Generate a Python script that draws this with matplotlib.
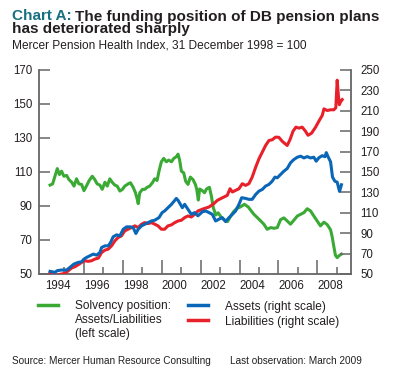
import matplotlib
matplotlib.use("Agg")
import matplotlib.pyplot as plt
from matplotlib.lines import Line2D

plt.rcParams['font.family'] = ['Liberation Sans', 'DejaVu Sans']

# Solvency position: assets/liabilities (left scale)
solv_years = [1994.26, 1994.39, 1994.51, 1994.63, 1994.74, 1994.85, 1994.97, 1995.11, 1995.23, 1995.37, 1995.49, 1995.62, 1995.74, 1995.88,
              1996.00, 1996.14, 1996.27, 1996.43, 1996.56, 1996.68, 1996.82, 1996.94, 1997.08, 1997.20, 1997.33, 1997.45, 1997.59, 1997.71, 1997.85, 1997.98,
              1998.10, 1998.27, 1998.39, 1998.53, 1998.65, 1998.74, 1998.79, 1998.87, 1999.01, 1999.13, 1999.25, 1999.38, 1999.52, 1999.64, 1999.76, 1999.86, 1999.98,
              2000.10, 2000.24, 2000.36, 2000.50, 2000.62, 2000.75, 2000.84, 2000.92, 2001.01, 2001.13, 2001.23, 2001.35, 2001.47, 2001.61, 2001.73, 2001.80, 2001.88, 2001.95,
              2002.09, 2002.20, 2002.30, 2002.45, 2002.55, 2002.65, 2002.78, 2002.90, 2003.05, 2003.20, 2003.38, 2003.52, 2003.68, 2003.85,
              2004.05, 2004.25, 2004.45, 2004.60, 2004.74, 2005.00, 2005.25, 2005.42, 2005.60, 2005.77, 2005.94,
              2006.11, 2006.28, 2006.45, 2006.62, 2006.79, 2006.97, 2007.14, 2007.31, 2007.48, 2007.65, 2007.82, 2007.99,
              2008.16, 2008.34, 2008.51, 2008.68, 2008.76, 2008.85, 2008.93, 2009.02, 2009.11, 2009.24]
solv_vals = [102.3, 103, 107.5, 112, 108.5, 110.5, 107.5, 108, 105.5, 104, 101.7, 106, 103, 102.7,
             99, 102, 105, 107.5, 105.5, 103, 102.3, 99.8, 104, 101.7, 106, 104, 102.3, 101.7, 98.8, 99.8,
             101.7, 103, 103.7, 101, 97.8, 94, 91.4, 97.8, 99.8, 99.8, 101, 101.7, 103.7, 106, 105, 110.5, 116,
             118, 116, 117, 116, 118, 119, 120.5, 117, 110.5, 109.5, 104.6, 102.7, 107, 105.5, 102.7, 99.8, 93.5, 100,
             99, 97.8, 100, 101, 96, 89, 84.7, 86, 83.5, 82, 80.8, 83.5, 86.5, 88.5,
             89.5, 91, 89.4, 87.1, 85.1, 82.2, 79.3, 76.3, 77.3, 76.9, 77.3,
             82, 83, 81.2, 79.3, 81.6, 84.1, 85.1, 86.1, 88.4, 87.1, 84.1, 81.2,
             78.3, 80.5, 79, 76, 72, 66, 61, 59.6, 60.7, 61.7]

# Assets (right scale)
assets_years = [1994.26, 1994.51, 1994.63, 1994.85, 1995.11, 1995.28, 1995.49, 1995.71, 1995.88,
                1996.00, 1996.14, 1996.31, 1996.48, 1996.65, 1996.82, 1996.91, 1997.08, 1997.25, 1997.37, 1997.50, 1997.68, 1997.85,
                1998.02, 1998.19, 1998.39, 1998.53, 1998.67, 1998.79, 1998.96, 1999.13, 1999.30, 1999.47, 1999.64, 1999.86,
                2000.02, 2000.15, 2000.32, 2000.50, 2000.67, 2000.75, 2000.84, 2000.96, 2001.06, 2001.18, 2001.35, 2001.52, 2001.69, 2001.86,
                2002.09, 2002.26, 2002.43, 2002.60, 2002.77, 2002.94, 2003.11, 2003.28, 2003.46, 2003.63, 2003.80, 2003.97,
                2004.11, 2004.31, 2004.48, 2004.65, 2004.83, 2005.00, 2005.17, 2005.34, 2005.51, 2005.68, 2005.82, 2005.94,
                2006.11, 2006.28, 2006.45, 2006.62, 2006.79, 2006.97, 2007.14, 2007.31, 2007.48, 2007.65, 2007.82, 2007.94,
                2008.08, 2008.25, 2008.39, 2008.46, 2008.55, 2008.68, 2008.78, 2008.90, 2009.02, 2009.14, 2009.24]
assets_vals = [52.6, 51.6, 53.3, 53.9, 53.9, 56.5, 59.8, 61.4, 62,
               64.6, 66.3, 67.9, 69.5, 68.5, 71.1, 76, 77.6, 77.6, 80.9, 86.4, 88.4, 87.4,
               93.9, 96.2, 96.2, 95.5, 89.7, 93.9, 97.2, 98.8, 100.4, 102, 102.7, 105.3,
               110.2, 111.8, 115, 118.3, 122.2, 124.1, 122.2, 118.3, 115, 118.3, 113.4, 108.5, 110.2, 107,
               111, 111.8, 110.2, 108.5, 102, 103.7, 105.3, 101.4, 105.3, 108.5, 111.8, 118.3,
               124.8, 124.1, 123.2, 123.2, 128, 131.3, 132.9, 136.2, 137.8, 141, 145, 144.3,
               147.6, 150.8, 153.4, 159, 162.2, 164.5, 165.5, 163.8, 165.1, 163.8, 164.5, 160.6,
               164, 166, 165, 169, 165, 160, 145, 141, 140, 131, 137.5]

# Liabilities (right scale)
liab_years = [1994.26, 1994.43, 1994.56, 1994.68, 1994.85, 1995.03, 1995.20, 1995.37, 1995.54, 1995.71, 1995.88,
              1996.05, 1996.22, 1996.39, 1996.56, 1996.74, 1996.91, 1997.08, 1997.25, 1997.42, 1997.59, 1997.76, 1997.93,
              1998.10, 1998.27, 1998.44, 1998.62, 1998.79, 1998.96, 1999.13, 1999.30, 1999.47, 1999.64, 1999.81, 1999.98,
              2000.15, 2000.32, 2000.50, 2000.67, 2000.84, 2001.01, 2001.18, 2001.35, 2001.52, 2001.69, 2001.86,
              2002.17, 2002.43, 2002.68, 2002.86, 2003.03, 2003.20, 2003.37, 2003.51, 2003.63, 2003.80, 2003.97,
              2004.14, 2004.31, 2004.48, 2004.65, 2004.83, 2005.00, 2005.17, 2005.34, 2005.51, 2005.68, 2005.85,
              2006.02, 2006.20, 2006.45, 2006.60, 2006.75, 2006.90, 2007.05, 2007.22, 2007.39, 2007.52, 2007.70, 2007.91,
              2008.08, 2008.25, 2008.34, 2008.51, 2008.68, 2008.85, 2008.95, 2009.02, 2009.08, 2009.13, 2009.20, 2009.28]
liab_vals = [51.6, 50.6, 47.4, 49.3, 50, 50.6, 53.3, 55.9, 57.2, 59.1, 61.4,
             63, 62.4, 63, 64.6, 65.6, 71.1, 73.4, 74.4, 77.6, 82.5, 85.8, 87.4,
             92.3, 93.9, 95.5, 97.2, 95.5, 98.8, 100.4, 99.4, 100.4, 98.8, 97.2, 93.9,
             93.9, 97.2, 98.2, 100.4, 102, 102.7, 105.3, 106.9, 105.9, 108.5, 111.8,
             114.1, 115.7, 119, 122.2, 123.9, 125.5, 127.1, 133.6, 130.4, 132, 133.6,
             138.5, 136.9, 138.5, 145, 154.8, 163, 169.5, 176, 180.9, 181.6, 184.2,
             184, 180, 176, 182, 190, 194, 193, 194, 190, 186, 188, 194,
             199.9, 205.4, 211.9, 210.3, 211, 211, 213, 240, 225, 216, 219, 221]

year_labels = ['1994', '1996', '1998', '2000', '2002', '2004', '2006', '2008']

GREEN = '#3aaa35'
BLUE = '#0a66b7'
RED = '#e8202a'
TEAL = '#16707f'
AXIS = '#666666'
TXT = '#231f20'

fig = plt.figure(figsize=(4.0, 3.79), dpi=100)
ax = fig.add_axes([39/400, 1 - 274/379, 312/400, 204/379])
ax2 = ax.twinx()

ax.plot(solv_years, solv_vals, color=GREEN, lw=2.2)
ax2.plot(liab_years, liab_vals, color=RED, lw=2.2)
ax2.plot(assets_years, assets_vals, color=BLUE, lw=2.2)

ax.set_xlim(1993.69, 2009.73)
ax.set_ylim(50, 170)
ax2.set_ylim(50, 250)
ax.set_yticks(range(50, 171, 20))
ax2.set_yticks(range(50, 251, 20))
ax.set_xticks(range(1996, 2009, 2))
ax.set_xticks(range(1995, 2010, 2), minor=True)
ax.set_xticklabels([])

for s in ['top', 'right']:
    ax.spines[s].set_visible(False)
for s in ['top', 'left', 'bottom']:
    ax2.spines[s].set_visible(False)
ax.spines['left'].set_color(AXIS)
ax.spines['bottom'].set_color(AXIS)
ax2.spines['right'].set_color(AXIS)
for sp in [ax.spines['left'], ax.spines['bottom'], ax2.spines['right']]:
    sp.set_linewidth(1.3)

ax.tick_params(axis='y', direction='in', length=8, width=1.1, color=AXIS,
               labelsize=8.3, labelcolor=TXT, pad=5)
ax2.tick_params(axis='y', direction='in', length=8, width=1.1, color=AXIS,
                labelsize=8.3, labelcolor=TXT, pad=6.5)
ax.tick_params(axis='x', which='major', direction='in', length=10, width=1.1, color=AXIS)
ax.tick_params(axis='x', which='minor', direction='in', length=5, width=1.1, color=AXIS)

# year labels sit inside each year, not on the tick
for lab in year_labels:
    ax.text(int(lab) + 0.65, -0.03, lab, transform=ax.get_xaxis_transform(),
            ha='center', va='top', fontsize=8.3, color=TXT)

# title block
t1 = fig.text(12/400, 1 - 20.5/379, 'Chart A:', fontsize=11, fontweight='bold', color=TEAL, va='baseline')
fig.canvas.draw()
bb = t1.get_window_extent()
fig.text(bb.x1/400 + 0.008, 1 - 20.5/379, 'The funding position of DB pension plans',
         fontsize=11, fontweight='bold', color=TXT, va='baseline')
fig.text(12/400, 1 - 33.5/379, 'has deteriorated sharply', fontsize=11, fontweight='bold', color=TXT, va='baseline')
fig.text(12/400, 1 - 48.3/379, 'Mercer Pension Health Index, 31 December 1998 = 100',
         fontsize=8.6, color=TXT, va='baseline')

# legend
fig.add_artist(Line2D([38/400, 58/400], [1 - 305/379] * 2, color=GREEN, lw=2.5))
fig.add_artist(Line2D([188/400, 208/400], [1 - 305/379] * 2, color=BLUE, lw=2.5))
fig.add_artist(Line2D([188/400, 208/400], [1 - 320/379] * 2, color=RED, lw=2.5))
fig.text(75/400, 1 - 299.5/379, 'Solvency position:\nAssets/Liabilities\n(left scale)', fontsize=8.6,
         color=TXT, va='top', linespacing=1.27)
fig.text(225/400, 1 - 310/379, 'Assets (right scale)', fontsize=8.6, color=TXT, va='baseline')
fig.text(225/400, 1 - 325/379, 'Liabilities (right scale)', fontsize=8.6, color=TXT, va='baseline')

fig.text(12/400, 1 - 363.5/379, 'Source: Mercer Human Resource Consulting', fontsize=7.2, color=TXT, va='baseline')
fig.text(230/400, 1 - 363.5/379, 'Last observation: March 2009', fontsize=7.2, color=TXT, va='baseline')

fig.savefig('out.png', dpi=100)
